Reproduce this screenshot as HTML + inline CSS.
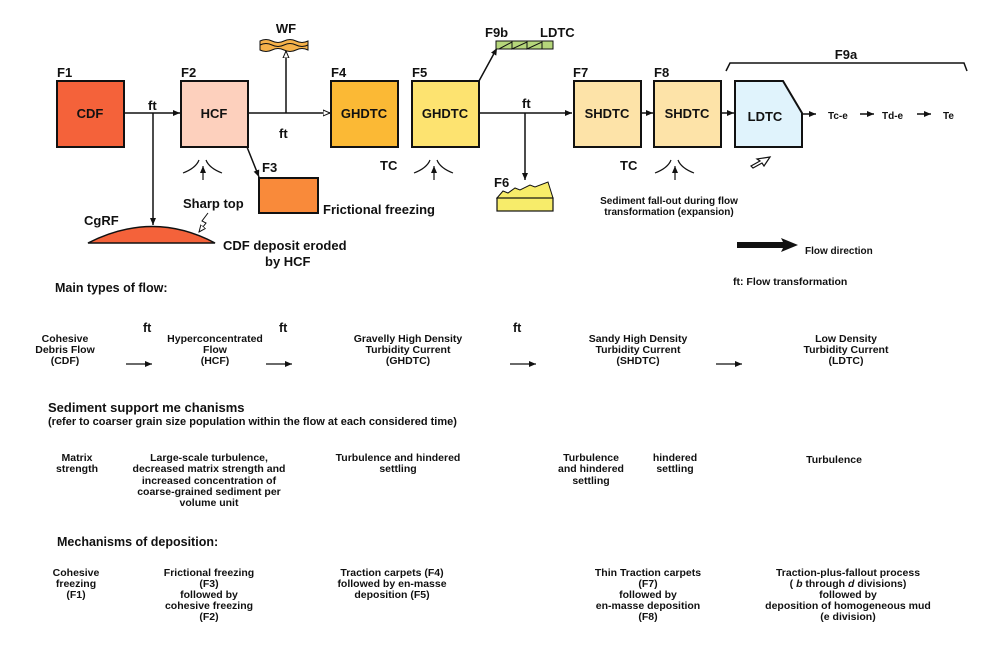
<!DOCTYPE html>
<html><head><meta charset="utf-8"><style>
html,body{margin:0;padding:0;background:#fff;}
svg{display:block;}
text{font-family:"Liberation Sans",sans-serif;font-weight:bold;fill:#111;}
.n{font-family:"Liberation Sans Narrow","Liberation Sans",sans-serif;font-size:10.5px;}
.m{text-anchor:middle;}
</style></head><body>
<svg width="994" height="658" viewBox="0 0 994 658" xmlns="http://www.w3.org/2000/svg">
<defs>
<marker id="a" markerWidth="8" markerHeight="8" refX="7" refY="4" orient="auto" markerUnits="userSpaceOnUse"><path d="M0,1 L7,4 L0,7 z" fill="#111"/></marker>
<marker id="ao" markerWidth="8" markerHeight="8" refX="7" refY="4" orient="auto" markerUnits="userSpaceOnUse"><path d="M0,1 L7,4 L0,7 z" fill="#fff" stroke="#111" stroke-width="1"/></marker>
</defs>
<g stroke="#111" stroke-width="1.5" fill="none">
<line x1="124" y1="113" x2="180" y2="113" marker-end="url(#a)"/>
<line x1="153" y1="113" x2="153" y2="225" marker-end="url(#a)"/>
<line x1="248" y1="113" x2="330" y2="113" marker-end="url(#ao)"/>
<line x1="286" y1="113" x2="286" y2="51" marker-end="url(#ao)"/>
<line x1="247" y1="147" x2="259" y2="177" marker-end="url(#a)"/>
<line x1="479" y1="81" x2="497" y2="48" marker-end="url(#a)"/>
<line x1="479" y1="113" x2="572" y2="113" marker-end="url(#a)"/>
<line x1="525" y1="113" x2="525" y2="180" marker-end="url(#a)"/>
<line x1="641" y1="113" x2="653" y2="113" marker-end="url(#a)"/>
<line x1="721" y1="113" x2="734" y2="113" marker-end="url(#a)"/>
<line x1="802" y1="114" x2="816" y2="114" marker-end="url(#a)"/>
<line x1="860" y1="114" x2="874" y2="114" marker-end="url(#a)"/>
<line x1="917" y1="114" x2="931" y2="114" marker-end="url(#a)"/>
<path d="M726,71 L730,63 L964,63 L967,71"/>
</g>
<g stroke="#111" stroke-width="2">
<rect x="57" y="81" width="67" height="66" fill="#f4623a"/>
<rect x="181" y="81" width="67" height="66" fill="#fdd0bd"/>
<rect x="259" y="178" width="59" height="35" fill="#f98a3a"/>
<rect x="331" y="81" width="67" height="66" fill="#fbb935"/>
<rect x="412" y="81" width="67" height="66" fill="#fde370"/>
<rect x="574" y="81" width="67" height="66" fill="#fde3a8"/>
<rect x="654" y="81" width="67" height="66" fill="#fde3a8"/>
<path d="M735,81 L783,81 L802,113 L802,147 L735,147 Z" fill="#e0f3fc"/>
</g>
<path d="M88,243 Q153,210 215,243 Z" fill="#f4623a" stroke="#111" stroke-width="1.5"/>
<path d="M208,213 L202,221 L206,223 L199,232" stroke="#111" stroke-width="1" fill="none" marker-end="url(#ao)"/>
<path d="M260,41 q6,-3 12,0 t12,0 t12,0 t12,0 L308,50 q-6,-3 -12,0 t-12,0 t-12,0 t-12,0 Z" fill="#f6b24a" stroke="#111" stroke-width="1"/>
<path d="M260,45 q6,-3 12,0 t12,0 t12,0 t12,0" fill="none" stroke="#111" stroke-width="1"/>
<rect x="496" y="41" width="57" height="8" fill="#b5d67a" stroke="#111" stroke-width="1"/>
<path d="M499,49 L512,42 L512,49 L527,42 L527,49 L542,42 L542,49" fill="none" stroke="#111" stroke-width="1"/>
<path d="M497,198 L503,191 L508,193 L515,188 L520,190 L530,185 L535,187 L548,182 L553,198 Z" fill="#f7ec6a" stroke="#111" stroke-width="1"/>
<rect x="497" y="198" width="56" height="13" fill="#f7ec6a" stroke="#111" stroke-width="1.2"/>
<g stroke="#111" stroke-width="1.2" fill="none">
<path d="M183,173 Q196,168 199,160"/><path d="M222,173 Q209,168 206,160"/><line x1="203" y1="180" x2="203" y2="166" marker-end="url(#a)"/>
<path d="M414,173 Q427,168 430,160"/><path d="M453,173 Q440,168 437,160"/><line x1="434" y1="180" x2="434" y2="166" marker-end="url(#a)"/>
<path d="M655,173 Q668,168 671,160"/><path d="M694,173 Q681,168 678,160"/><line x1="675" y1="180" x2="675" y2="166" marker-end="url(#a)"/>
<path d="M770,157 L757,159 L760,161 L751,166 L753,168 L762,163 L764,166 Z"/>
</g>
<path d="M737,242 L783,242 L781,238 L798,245 L781,252 L783,248 L737,248 Z" fill="#111"/>
<g font-size="13">
<text x="57" y="77">F1</text><text x="181" y="77">F2</text><text x="331" y="77">F4</text><text x="412" y="77">F5</text>
<text x="573" y="77">F7</text><text x="654" y="77">F8</text><text x="262" y="172">F3</text><text x="494" y="187">F6</text>
<text x="485" y="37">F9b</text><text x="540" y="37">LDTC</text><text x="846" y="59" class="m">F9a</text>
<text x="286" y="33" class="m">WF</text>
<text x="90" y="118" class="m">CDF</text><text x="214" y="118" class="m">HCF</text><text x="364" y="118" class="m">GHDTC</text><text x="445" y="118" class="m">GHDTC</text>
<text x="607" y="118" class="m">SHDTC</text><text x="687" y="118" class="m">SHDTC</text><text x="765" y="121" class="m">LDTC</text>
<text x="148" y="110">ft</text><text x="279" y="138">ft</text><text x="522" y="108">ft</text>
<text x="380" y="170">TC</text><text x="620" y="170">TC</text>
<text x="84" y="225">CgRF</text><text x="183" y="208">Sharp top</text>
<text x="323" y="214">Frictional freezing</text>
<text x="223" y="250">CDF deposit eroded</text><text x="265" y="266">by HCF</text>
</g>
<g font-size="10">
<text x="828" y="119">Tc-e</text><text x="882" y="119">Td-e</text><text x="943" y="119">Te</text>
<text x="805" y="254">Flow direction</text>
<text x="669" y="204" class="m">Sediment fall-out during flow</text>
<text x="669" y="215" class="m">transformation (expansion)</text>
</g>
<text class="n" x="55" y="292" style="font-size:12.5px">Main types of flow:</text>
<text class="n" x="733" y="285">ft: Flow transformation</text>
<text class="n" x="143" y="332" style="font-size:12.5px">ft</text><text class="n" x="279" y="332" style="font-size:12.5px">ft</text><text class="n" x="513" y="332" style="font-size:12.5px">ft</text>
<text class="n m" x="65" y="342">Cohesive</text><text class="n m" x="65" y="353">Debris Flow</text><text class="n m" x="65" y="364">(CDF)</text>
<text class="n m" x="215" y="342">Hyperconcentrated</text><text class="n m" x="215" y="353">Flow</text><text class="n m" x="215" y="364">(HCF)</text>
<text class="n m" x="408" y="342">Gravelly High Density</text><text class="n m" x="408" y="353">Turbidity Current</text><text class="n m" x="408" y="364">(GHDTC)</text>
<text class="n m" x="638" y="342">Sandy High Density</text><text class="n m" x="638" y="353">Turbidity Current</text><text class="n m" x="638" y="364">(SHDTC)</text>
<text class="n m" x="846" y="342">Low Density</text><text class="n m" x="846" y="353">Turbidity Current</text><text class="n m" x="846" y="364">(LDTC)</text>
<g stroke="#111" stroke-width="1.2">
<line x1="126" y1="364" x2="152" y2="364" marker-end="url(#a)"/>
<line x1="266" y1="364" x2="292" y2="364" marker-end="url(#a)"/>
<line x1="510" y1="364" x2="536" y2="364" marker-end="url(#a)"/>
<line x1="716" y1="364" x2="742" y2="364" marker-end="url(#a)"/>
</g>
<text class="n" x="48" y="412" style="font-size:13px">Sediment support me chanisms</text>
<text class="n" x="48" y="425" style="font-size:11px">(refer to coarser grain size population within the flow at each considered time)</text>
<text class="n m" x="77" y="461">Matrix</text><text class="n m" x="77" y="472">strength</text>
<text class="n m" x="209" y="461">Large-scale turbulence,</text><text class="n m" x="209" y="472">decreased matrix strength and</text><text class="n m" x="209" y="484">increased concentration of</text><text class="n m" x="209" y="495">coarse-grained sediment per</text><text class="n m" x="209" y="506">volume unit</text>
<text class="n m" x="398" y="461">Turbulence and hindered</text><text class="n m" x="398" y="472">settling</text>
<text class="n m" x="591" y="461">Turbulence</text><text class="n m" x="591" y="472">and hindered</text><text class="n m" x="591" y="484">settling</text>
<text class="n m" x="675" y="461">hindered</text><text class="n m" x="675" y="472">settling</text>
<text class="n m" x="834" y="463">Turbulence</text>
<text class="n" x="57" y="546" style="font-size:12.5px">Mechanisms of deposition:</text>
<text class="n m" x="76" y="576">Cohesive</text><text class="n m" x="76" y="587">freezing</text><text class="n m" x="76" y="598">(F1)</text>
<text class="n m" x="209" y="576">Frictional freezing</text><text class="n m" x="209" y="587">(F3)</text><text class="n m" x="209" y="598">followed by</text><text class="n m" x="209" y="609">cohesive freezing</text><text class="n m" x="209" y="620">(F2)</text>
<text class="n m" x="392" y="576">Traction carpets (F4)</text><text class="n m" x="392" y="587">followed by en-masse</text><text class="n m" x="392" y="598">deposition (F5)</text>
<text class="n m" x="648" y="576">Thin Traction carpets</text><text class="n m" x="648" y="587">(F7)</text><text class="n m" x="648" y="598">followed by</text><text class="n m" x="648" y="609">en-masse deposition</text><text class="n m" x="648" y="620">(F8)</text>
<text class="n m" x="848" y="576">Traction-plus-fallout  process</text><text class="n m" x="848" y="587">( <tspan font-style="italic">b</tspan> through <tspan font-style="italic">d</tspan> divisions)</text><text class="n m" x="848" y="598">followed by</text><text class="n m" x="848" y="609">deposition of homogeneous mud</text><text class="n m" x="848" y="620">(e division)</text>
</svg>
</body></html>
